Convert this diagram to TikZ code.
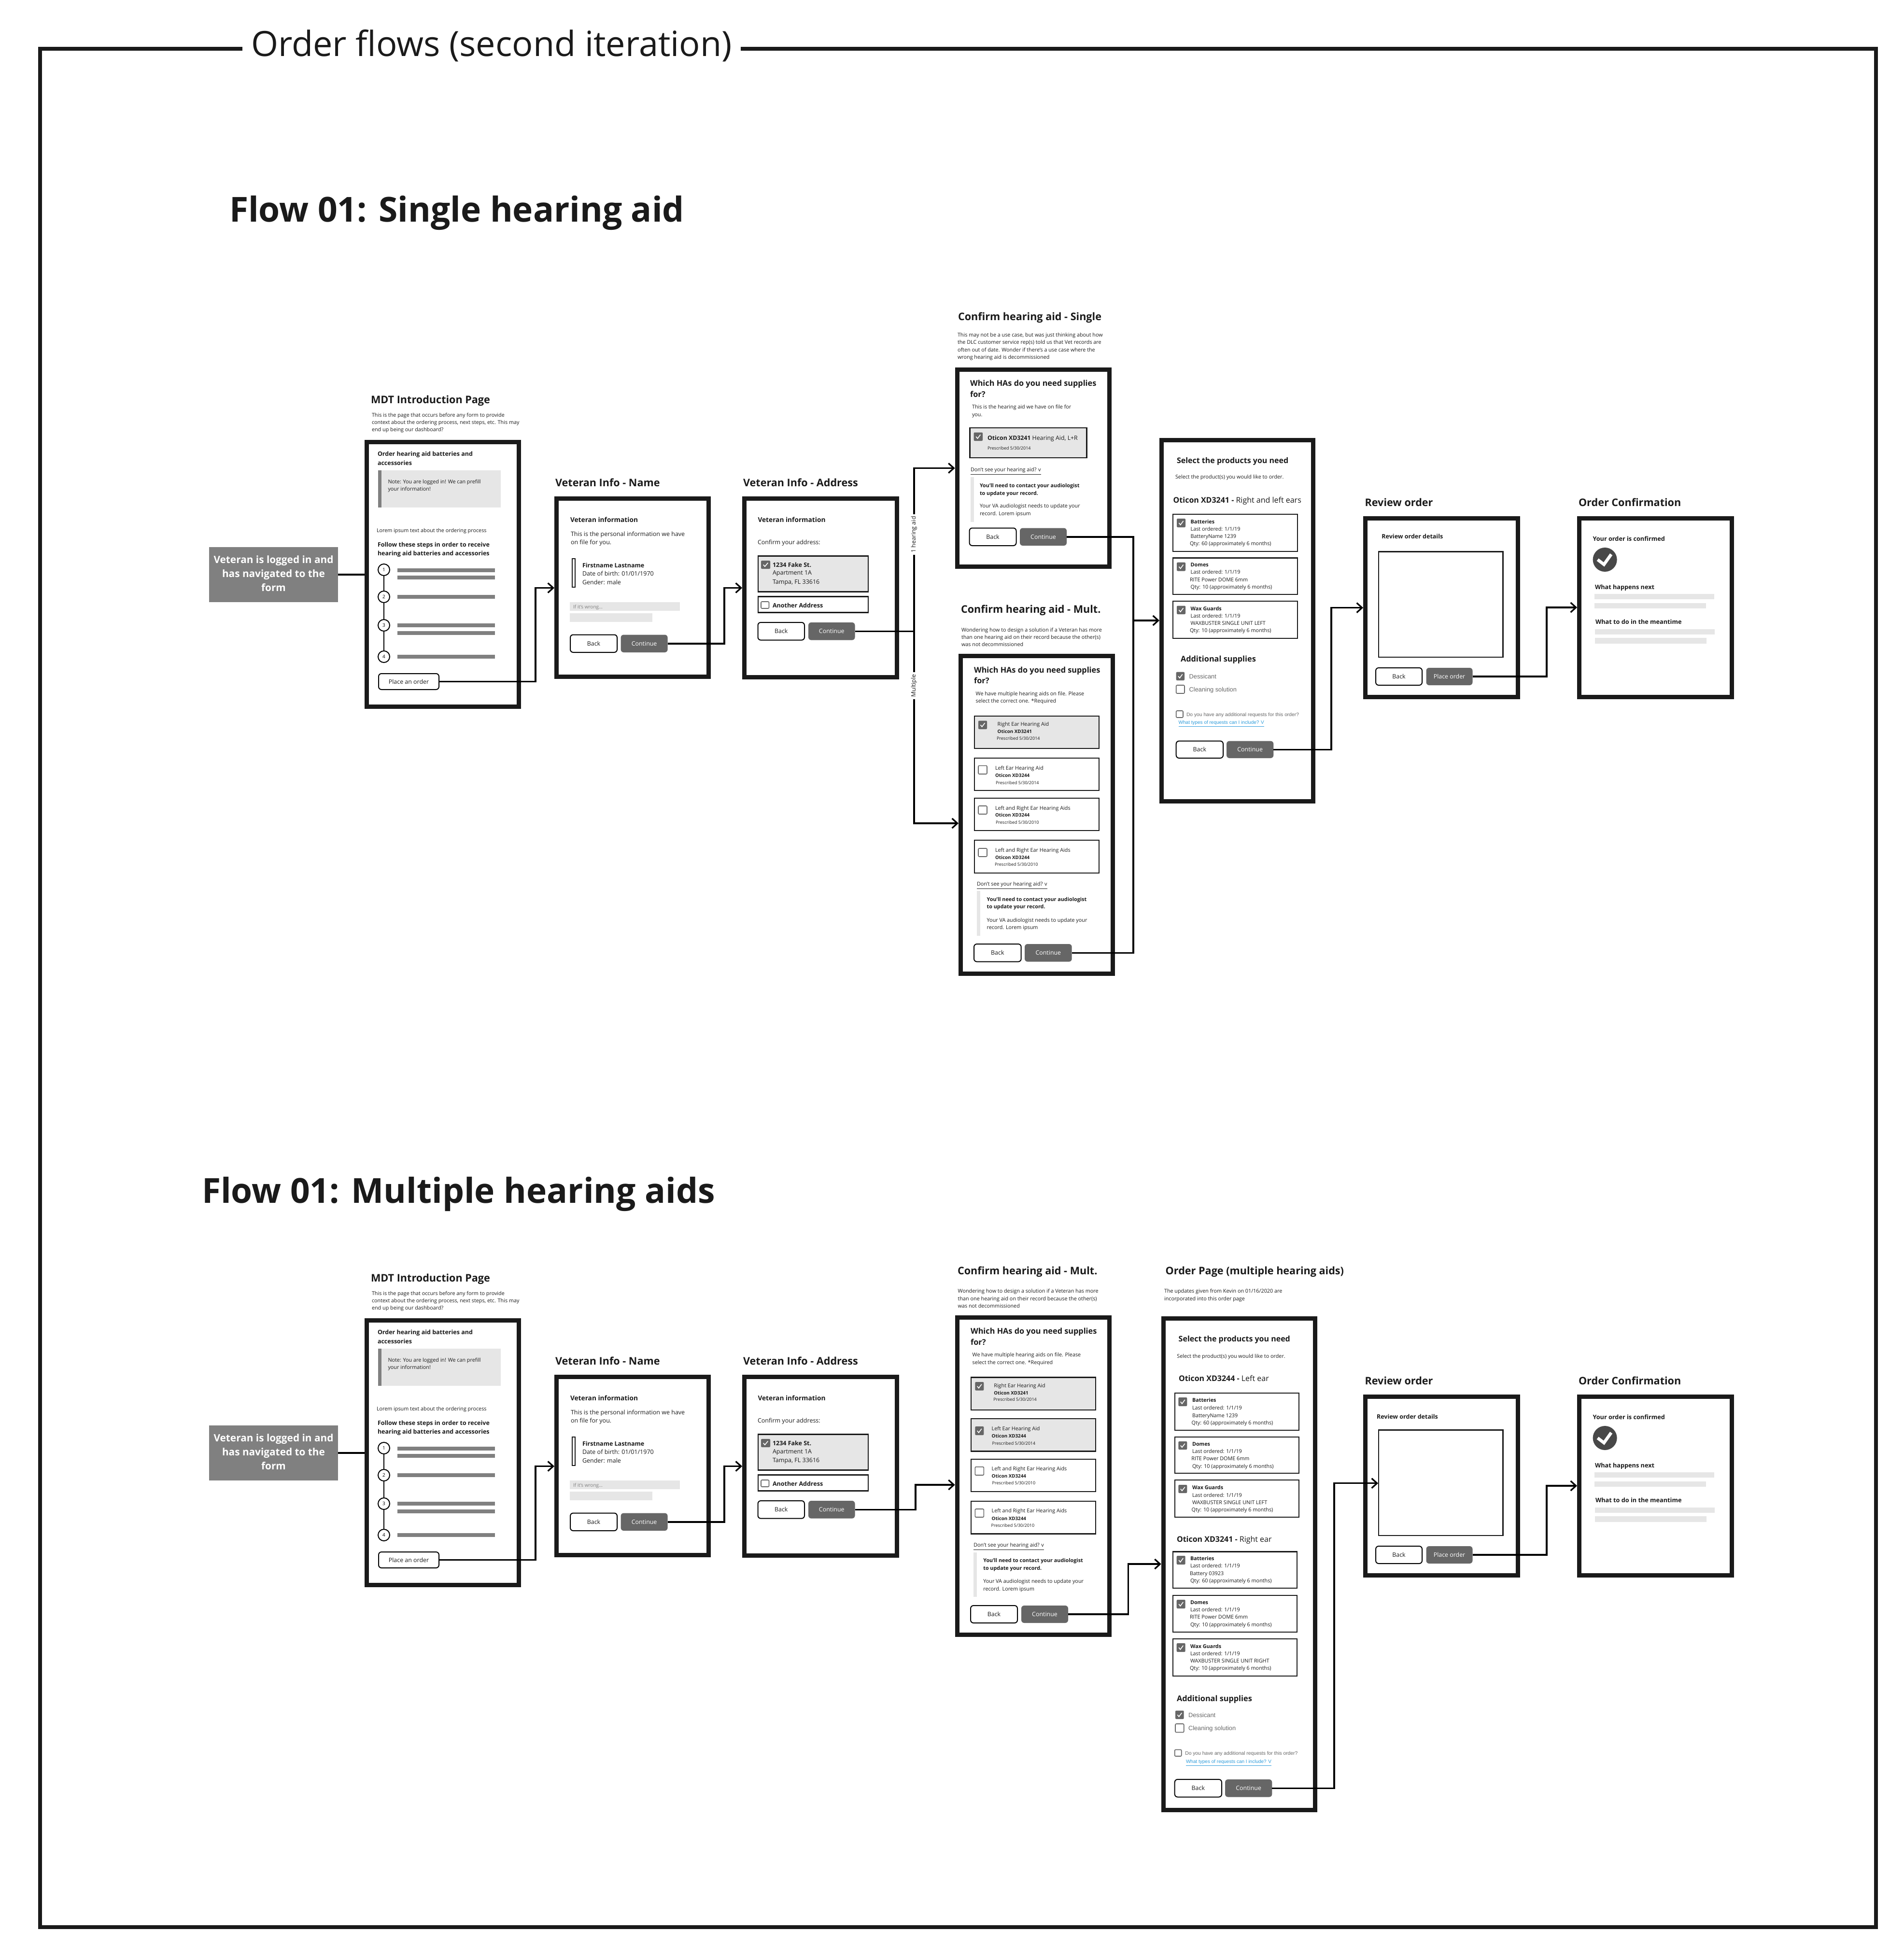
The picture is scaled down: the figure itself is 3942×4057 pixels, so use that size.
\documentclass[tikz,border=0pt]{standalone}
\usepackage{fontspec}
\setmainfont{Open Sans}
\newfontfamily\arl{Liberation Sans}
\usetikzlibrary{arrows.meta,calc}
\definecolor{ink}{HTML}{1A1A1A}
\definecolor{pale}{HTML}{E6E6E6}
\definecolor{midg}{HTML}{808080}
\definecolor{btn}{HTML}{666666}
\definecolor{linkb}{HTML}{2D9CDB}
\newcounter{tc}
% text: [opts]{size px}{x}{y}{text}
\newcommand{\tx}[5][]{\stepcounter{tc}\node[txt,#1] (t\arabic{tc}) at (#3,\fpeval{#4+2}) {\fontsize{\fpeval{#2*0.5}pt}{\fpeval{#2*0.6}pt}\selectfont\vphantom{Ag}#5};}
% box: style,name,x1,y1,x2,y2
\newcommand{\boxn}[6]{\pgfmathsetmacro\bw{(#5-#3)*0.5}\pgfmathsetmacro\bh{(#6-#4)*0.5}\pgfmathsetmacro\bx{(#3+#5)/2}\pgfmathsetmacro\by{(#4+#6)/2}\node[#1,minimum width=\bw pt,minimum height=\bh pt] (#2) at (\bx,\by) {};}
\newcommand{\cbon}[5]{\boxn{cbfill}{#1}{#2}{#3}{#4}{#5}\draw[tick] ($(#1.west)!0.25!(#1.east)$) -- ++(0.17*#4-0.17*#2,0.22*#5-0.22*#3) -- ++(0.33*#4-0.33*#2,-0.45*#5+0.45*#3);}
\newcommand{\cboff}[5]{\boxn{cbempty}{#1}{#2}{#3}{#4}{#5}}
\newcommand{\btnrow}[6]{\boxn{btnback}{#1b}{#2}{#3}{#4}{#6}\boxn{btnmain}{#1c}{#5}{#3}{\fpeval{#5+#4-#2}}{#6}}
\tikzset{
  x=0.5pt,y=-0.5pt,
  txt/.style={anchor=west,inner sep=0pt,outer sep=0pt,text=ink,align=left},
  screen/.style={draw=ink,fill=white,line width=4.5pt,inner sep=0pt,outer sep=0pt},
  card/.style={draw=ink,fill=white,line width=1.2pt,inner sep=0pt,outer sep=0pt},
  cardon/.style={card,fill=pale},
  palebar/.style={fill=pale,inner sep=0pt,outer sep=0pt},
  greybar/.style={fill=midg,inner sep=0pt,outer sep=0pt},
  cbfill/.style={fill=btn,rounded corners=1pt,inner sep=0pt,outer sep=0pt},
  cbempty/.style={draw=btn,fill=white,line width=0.8pt,rounded corners=1pt,inner sep=0pt,outer sep=0pt},
  tick/.style={draw=white,line width=0.8pt},
  btnback/.style={draw=black,fill=white,line width=1pt,rounded corners=3pt,inner sep=0pt,outer sep=0pt},
  btnmain/.style={fill=btn,rounded corners=3pt,inner sep=0pt,outer sep=0pt},
  btntxt/.style={inner sep=0pt,outer sep=0pt},
  conn/.style={draw=black,line width=1.75pt,-{Straight Barb[length=5.5pt,width=10pt,line width=1.6pt]}},
  plain/.style={draw=black,line width=1.75pt},
  stepdot/.style={circle,draw=black,fill=white,line width=1pt,minimum size=12pt,inner sep=0pt,outer sep=0pt},
  vlabel/.style={rotate=90,fill=white,inner xsep=2pt,inner ysep=1pt,text=ink,anchor=center}
}
% label inside a button
\newcommand{\lab}[3]{\stepcounter{tc}\node[btntxt,text=#1] (t\arabic{tc}) at (#2.center) {\fontsize{6.2}{7}\selectfont #3};}
% ---- repeating screens
\newcommand{\mdtscreen}[1]{%
  \tx{21.6}{768}{828}{\bfseries MDT Introduction Page}
  \tx{10.8}{770}{859}{This is the page that occurs before any form to provide}
  \tx{10.8}{770}{874}{context about the ordering process, next steps, etc. This may}
  \tx{10.8}{770}{889}{end up being our dashboard?}
  \boxn{screen}{#1mdt}{759.5}{915.5}{1074.5}{1463.5}
  \tx{12.5}{782}{939}{\bfseries Order hearing aid batteries and}
  \tx{12.5}{782}{958}{\bfseries accessories}
  \boxn{palebar}{#1note}{783}{974}{1036.5}{1051}
  \boxn{greybar}{#1noteb}{783}{974}{790}{1051}
  \tx{10.8}{803.5}{997}{Note: You are logged in! We can prefill}
  \tx{10.8}{803.5}{1012}{your information!}
  \tx{10.8}{780}{1098}{Lorem ipsum text about the ordering process}
  \tx{12.5}{782}{1127.6}{\bfseries Follow these steps in order to receive}
  \tx{12.5}{782}{1145.5}{\bfseries hearing aid batteries and accessories}
  \coordinate (#1s1) at (795,1180);\coordinate (#1s2) at (795,1236);\coordinate (#1s3) at (795,1295);\coordinate (#1s4) at (795,1360);
  \draw[line width=1pt,draw=black] (#1s1) -- (#1s4);
  \foreach \n in {1,2,3,4}{\node[stepdot,font=\fontsize{5}{6}\selectfont] (#1d\n) at (#1s\n) {\n};}
  \boxn{greybar}{#1l1}{822.5}{1177}{1024.5}{1185}
  \boxn{greybar}{#1l2}{822.5}{1192}{1024.5}{1200}
  \boxn{greybar}{#1l3}{822.5}{1232}{1024.5}{1240}
  \boxn{greybar}{#1l4}{822.5}{1291}{1024.5}{1299}
  \boxn{greybar}{#1l5}{822.5}{1307}{1024.5}{1315}
  \boxn{greybar}{#1l6}{822.5}{1356}{1024.5}{1364}
  \boxn{btnback}{#1place}{784}{1395}{909}{1428}
  \lab{ink}{#1place}{Place an order}
  \boxn{greybar}{#1start}{433}{1133}{700}{1246.5}
  \stepcounter{tc}\node[btntxt,text=white,align=center,yshift=1pt,font=\fontsize{10.4}{14.5}\selectfont\bfseries] (t\arabic{tc}) at (#1start.center) {Veteran is logged in and\\has navigated to the\\form};
  \draw[plain] (#1start.east |- 0,1190) -- (755,1190);
}
\newcommand{\namescreen}[1]{%
  \tx{21.6}{1150}{1000}{\bfseries Veteran Info - Name}
  \boxn{screen}{#1name}{1152.5}{1032.5}{1467.5}{1401.5}
  \tx{13.7}{1181}{1076}{\bfseries Veteran information}
  \tx{12.5}{1182}{1105}{This is the personal information we have}
  \tx{12.5}{1182}{1122.5}{on file for you.}
  \boxn{card}{#1nbar}{1185}{1157}{1191}{1216}
  \tx{12.5}{1206}{1170}{\bfseries Firstname Lastname}
  \tx{12.5}{1206}{1187}{Date of birth: 01/01/1970}
  \tx{12.5}{1206}{1205}{Gender: male}
  \boxn{palebar}{#1w1}{1180}{1247}{1408}{1265}
  \tx[text=midg]{10}{1187}{1256}{If it's wrong...}
  \boxn{palebar}{#1w2}{1180}{1270}{1351}{1288}
  \btnrow{#1n}{1181}{1314.5}{1278}{1285.6}{1351}
  \lab{ink}{#1nb}{Back}\lab{white}{#1nc}{Continue}
  \coordinate (#1nameIn) at (1148,1217.5);
}
\newcommand{\addrscreen}[1]{%
  \tx{21.6}{1539}{1000}{\bfseries Veteran Info - Address}
  \boxn{screen}{#1addr}{1541.5}{1032.5}{1857.5}{1402.5}
  \tx{13.7}{1569.5}{1075.6}{\bfseries Veteran information}
  \tx{12.5}{1569}{1122.5}{Confirm your address:}
  \boxn{cardon}{#1a1}{1570}{1151.5}{1798}{1225.5}
  \cbon{#1ac1}{1576}{1161}{1595}{1178}
  \tx{12.5}{1600}{1169.5}{\bfseries 1234 Fake St.}
  \tx{12.5}{1600}{1186}{Apartment 1A}
  \tx{12.5}{1600}{1204.7}{Tampa, FL 33616}
  \boxn{card}{#1a2}{1570}{1235.5}{1798}{1268.5}
  \cboff{#1ac2}{1576}{1246}{1592.5}{1260}
  \tx{12.5}{1600}{1253}{\bfseries Another Address}
  \btnrow{#1a}{1569.5}{1289}{1666}{1674}{1325.6}
  \lab{ink}{#1ab}{Back}\lab{white}{#1ac}{Continue}
  \coordinate (#1addrIn) at (1537,1217.5);
}
\newcommand{\confscreen}[1]{%
  \tx{21.6}{3269}{1041}{\bfseries Order Confirmation}
  \boxn{screen}{#1conf}{3270.5}{1073.5}{3586.5}{1443.5}
  \tx{12.7}{3298.5}{1114.7}{\bfseries Your order is confirmed}
  \node[circle,fill=ink!80!white,minimum size=25pt,inner sep=0pt] (#1okc) at (3323.6,1159) {};
  \draw[white,line width=3.2pt] ($(#1okc.center)+(-15,0)$) -- ($(#1okc.center)+(-2,10)$) -- ($(#1okc.center)+(13,-11)$);
  \tx{12.7}{3303}{1215}{\bfseries What happens next}
  \boxn{palebar}{#1c1}{3302}{1230}{3550}{1241}
  \boxn{palebar}{#1c2}{3302}{1248.7}{3532.5}{1260}
  \tx{12.7}{3304}{1286.7}{\bfseries What to do in the meantime}
  \boxn{palebar}{#1c3}{3303}{1303}{3551}{1314}
  \boxn{palebar}{#1c4}{3303}{1321}{3533.6}{1333}
  \coordinate (#1confIn) at (3266,1258);
}
% review: prefix, text x, text y
\newcommand{\revscreen}[3]{%
  \tx{21.6}{2826.6}{1041}{\bfseries Review order}
  \boxn{screen}{#1rev}{2827.5}{1073.5}{3143.5}{1443.5}
  \tx{12.5}{#2}{#3}{\bfseries Review order details}
  \boxn{card}{#1rbox}{2855}{1142.5}{3112.5}{1361}
  \btnrow{#1r}{2849}{1383}{2945}{2953.5}{1419}
  \lab{ink}{#1rb}{Back}\lab{white}{#1rc}{Place order}
}
\begin{document}
\begin{tikzpicture}
\useasboundingbox (0,0) rectangle (3942,4057);
\fill[white] (0,0) rectangle (3942,4057);
% ----- outer frame and headings
\coordinate (fa) at (502,101.5);\coordinate (fb) at (1533.7,101.5);
\draw[draw=ink,line width=4pt,line cap=butt,line join=miter] (fa) -- (83,101.5) -- (83,3991) -- (3885,3991) -- (3885,101.5) -- (fb);
\tx{72}{520}{96}{Order flows (second iteration)}
\tx{71.3}{475}{438.7}{\bfseries Flow 01: Single hearing aid}
\tx{71.3}{418}{2471}{\bfseries Flow 01: Multiple hearing aids}
% ===== FLOW 1
\mdtscreen{A}\namescreen{A}\addrscreen{A}
% single
\tx{21.6}{1984}{656}{\bfseries Confirm hearing aid - Single}
\tx{10.8}{1983}{693}{This may not be a use case, but was just thinking about how}
\tx{10.8}{1983}{708}{the DLC customer service rep(s) told us that Vet records are}
\tx{10.8}{1983}{724}{often out of date. Wonder if there's a use case where the}
\tx{10.8}{1983}{739}{wrong hearing aid is decommissioned}
\boxn{screen}{Asing}{1982}{765.5}{2297.5}{1173}
\tx{16.3}{2009}{793.5}{\bfseries Which HAs do you need supplies}
\tx{16.3}{2009}{816}{\bfseries for?}
\tx{10.8}{2013}{842}{This is the hearing aid we have on file for}
\tx{10.8}{2013}{858}{you.}
\boxn{cardon}{Ascard}{2008.5}{886}{2250.5}{948}
\cbon{Asck}{2016.6}{895.5}{2035}{913}
\tx{12.3}{2045}{906.7}{\textbf{Oticon XD3241} Hearing Aid, L+R}
\tx{9}{2045}{927.6}{Prescribed 5/30/2014}
\tx{10.8}{2010}{974}{\underline{Don't see your hearing aid? v}}
\boxn{palebar}{Asbar}{2010}{988}{2016.6}{1080.7}
\tx{10.8}{2029}{1005}{\bfseries You'll need to contact your audiologist}
\tx{10.8}{2029}{1020.5}{\bfseries to update your record.}
\tx{10.8}{2029}{1047}{Your VA audiologist needs to update your}
\tx{10.8}{2029}{1063}{record. Lorem ipsum}
\btnrow{As}{2007.5}{1093.5}{2104.5}{2112}{1130}
\lab{ink}{Asb}{Back}\lab{white}{Asc}{Continue}
\coordinate (AsingIn) at (1977.6,969.5);
% mult
\tx{21.6}{1990}{1262}{\bfseries Confirm hearing aid - Mult.}
\tx{10.8}{1991}{1304}{Wondering how to design a solution if a Veteran has more}
\tx{10.8}{1991}{1319}{than one hearing aid on their record because the other(s)}
\tx{10.8}{1991}{1334}{was not decommissioned}
\boxn{screen}{Amult}{1989.5}{1358.5}{2304.5}{2016}
\tx{16.3}{2017}{1387}{\bfseries Which HAs do you need supplies}
\tx{16.3}{2017}{1409.4}{\bfseries for?}
\tx{10.8}{2020.7}{1435.7}{We have multiple hearing aids on file. Please}
\tx{10.8}{2020.7}{1450.7}{select the correct one. *Required}
\boxn{cardon}{Am1}{2018}{1483}{2276}{1550}
\cbon{Amc1}{2026}{1492.5}{2044}{1510}
\tx{10.8}{2065.7}{1499}{Right Ear Hearing Aid}
\tx{9.8}{2065.7}{1514}{\bfseries Oticon XD3241}
\tx{9}{2064}{1528}{Prescribed 5/30/2014}
\boxn{card}{Am2}{2018}{1570}{2276}{1637}
\cboff{Amc2}{2026}{1585.6}{2044}{1603}
\tx{10.8}{2061}{1590}{Left Ear Hearing Aid}
\tx{9.8}{2061}{1605}{\bfseries Oticon XD3244}
\tx{9}{2062}{1620}{Prescribed 5/30/2014}
\boxn{card}{Am3}{2018}{1653}{2276}{1720}
\cboff{Amc3}{2026}{1669}{2044}{1686}
\tx{10.8}{2061}{1672.4}{Left and Right Ear Hearing Aids}
\tx{9.8}{2061}{1687.4}{\bfseries Oticon XD3244}
\tx{9}{2062}{1702.4}{Prescribed 5/30/2010}
\boxn{card}{Am4}{2018}{1740}{2276}{1808}
\cboff{Amc4}{2026}{1757}{2044}{1774}
\tx{10.8}{2061}{1759.7}{Left and Right Ear Hearing Aids}
\tx{9.8}{2061}{1774.7}{\bfseries Oticon XD3244}
\tx{9}{2060}{1789}{Prescribed 5/30/2010}
\tx{10.8}{2023}{1832}{\underline{Don't see your hearing aid? v}}
\boxn{palebar}{Ambar}{2023}{1845}{2030}{1938}
\tx{10.8}{2043.7}{1861.5}{\bfseries You'll need to contact your audiologist}
\tx{10.8}{2043.7}{1876.5}{\bfseries to update your record.}
\tx{10.8}{2043.7}{1905}{Your VA audiologist needs to update your}
\tx{10.8}{2043.7}{1920}{record. Lorem ipsum}
\btnrow{Am}{2017}{1955}{2114.7}{2122}{1991.6}
\lab{ink}{Amb}{Back}\lab{white}{Amc}{Continue}
\coordinate (AmultIn) at (1985,1705);
% products
\boxn{screen}{Aprod}{2405.5}{911}{2719.5}{1659.5}
\tx{16}{2437}{953}{\bfseries Select the products you need}
\tx{10.8}{2434}{987}{Select the product(s) you would like to order.}
\tx{16}{2429.7}{1035}{\textbf{Oticon XD3241 -} Right and left ears}
\boxn{card}{Ap1}{2429}{1064.7}{2687}{1142}
\cbon{Apc1}{2437}{1074}{2455}{1092}
\tx{10.8}{2465.7}{1080}{\bfseries Batteries}
\tx{10.8}{2465.7}{1095}{Last ordered: 1/1/19}
\tx{10.8}{2465.7}{1110}{BatteryName 1239}
\tx{10.8}{2464}{1125}{Qty: 60 (approximately 6 months)}
\boxn{card}{Ap2}{2429}{1155.5}{2687}{1231}
\cbon{Apc2}{2437}{1164.7}{2455}{1182.5}
\tx{10.8}{2465.7}{1169}{\bfseries Domes}
\tx{10.8}{2465.7}{1184}{Last ordered: 1/1/19}
\tx{10.8}{2464}{1200}{RITE Power DOME 6mm}
\tx{10.8}{2465.7}{1215}{Qty: 10 (approximately 6 months)}
\boxn{card}{Ap3}{2429}{1245}{2687}{1322}
\cbon{Apc3}{2437}{1254.5}{2455}{1272}
\tx{10.8}{2465.7}{1260}{\bfseries Wax Guards}
\tx{10.8}{2465.7}{1275}{Last ordered: 1/1/19}
\tx{10.8}{2465.7}{1290}{WAXBUSTER SINGLE UNIT LEFT}
\tx{10.8}{2464}{1305}{Qty: 10 (approximately 6 months)}
\tx{16.3}{2445}{1364.7}{\bfseries Additional supplies}
\cbon{Apc4}{2435.7}{1391.7}{2453}{1409}
\tx[text=btn]{12.8}{2462.7}{1400}{\arl Dessicant}
\cboff{Apc5}{2435.7}{1419}{2453}{1436}
\tx[text=btn]{12.8}{2462.7}{1427.5}{\arl Cleaning solution}
\cboff{Apc6}{2435.7}{1472}{2450}{1486}
\tx[text=btn]{10.3}{2457}{1479}{\arl Do you have any additional requests for this order?}
\tx[text=linkb]{10}{2440.7}{1497}{\arl\underline{What types of requests can I include? V}}
\btnrow{Ap}{2435.7}{1534.6}{2533}{2540}{1570}
\lab{ink}{Apb}{Back}\lab{white}{Apc}{Continue}
\coordinate (AprodIn) at (2401,1285);
\revscreen{A}{2861.4}{1110.7}
\coordinate (ArevIn) at (2823,1258.6);
\confscreen{A}
% flow 1 connectors
\coordinate (x1) at (1109,0);\coordinate (x2) at (1500,0);\coordinate (x3) at (1893,0);\coordinate (x4) at (2347,0);\coordinate (x5) at (2757,0);\coordinate (x6) at (3203,0);
\draw[conn] (Aplace.east) -| (x1 |- AnameIn) -- (AnameIn);
\draw[conn] (Anc.east) -| (x2 |- AaddrIn) -- (AaddrIn);
\draw[conn] (Aac.east) -| (x3 |- AsingIn) -- (AsingIn);
\draw[conn] (x3 |- Aac.east) |- (AmultIn);
\draw[plain] (Asc.east) -| (x4 |- Amc.east) -- (Amc.east);
\draw[conn] (x4 |- AprodIn) -- (AprodIn);
\draw[conn] (Apc.east) -| (x5 |- ArevIn) -- (ArevIn);
\draw[conn] (Arc.east) -| (x6 |- AconfIn) -- (AconfIn);
\node[vlabel,font=\fontsize{6.2}{7}\selectfont] (Al1) at (1893,1107) {1 hearing aid};
\node[vlabel,font=\fontsize{6.2}{7}\selectfont] (Al2) at (1893,1420) {Multiple};
% ===== FLOW 2
\begin{scope}[shift={(0,1819)}]
\mdtscreen{B}\namescreen{B}\addrscreen{B}
\revscreen{B}{2851}{1114.7}
\confscreen{B}
\end{scope}
% multiple screen, flow 2
\tx{21.6}{1983}{2631.6}{\bfseries Confirm hearing aid - Mult.}
\tx{10.8}{1983.7}{2673}{Wondering how to design a solution if a Veteran has more}
\tx{10.8}{1983.7}{2688.8}{than one hearing aid on their record because the other(s)}
\tx{10.8}{1983.7}{2704}{was not decommissioned}
\boxn{screen}{Bmult}{1982.2}{2728.5}{2297.5}{3385.5}
\tx{16.3}{2010}{2756.6}{\bfseries Which HAs do you need supplies}
\tx{16.3}{2010}{2779.6}{\bfseries for?}
\tx{10.8}{2013.7}{2805}{We have multiple hearing aids on file. Please}
\tx{10.8}{2013.7}{2821}{select the correct one. *Required}
\boxn{cardon}{Bm1}{2011}{2852.5}{2269}{2920}
\cbon{Bmc1}{2019.3}{2862}{2037.3}{2879.6}
\tx{10.8}{2058.3}{2869}{Right Ear Hearing Aid}
\tx{9.8}{2058.3}{2883.7}{\bfseries Oticon XD3241}
\tx{9}{2057.3}{2897.5}{Prescribed 5/30/2014}
\boxn{cardon}{Bm2}{2011}{2938}{2269}{3005.6}
\cbon{Bmc2}{2019.3}{2954}{2037.3}{2972}
\tx{10.8}{2053.7}{2958}{Left Ear Hearing Aid}
\tx{9.8}{2053.7}{2973}{\bfseries Oticon XD3244}
\tx{9}{2054.7}{2988}{Prescribed 5/30/2014}
\boxn{card}{Bm3}{2011}{3022}{2269}{3089}
\cboff{Bmc3}{2019.3}{3037.8}{2037.3}{3055}
\tx{10.8}{2053.7}{3040.8}{Left and Right Ear Hearing Aids}
\tx{9.8}{2053.7}{3055.6}{\bfseries Oticon XD3244}
\tx{9}{2054.7}{3070.4}{Prescribed 5/30/2010}
\boxn{card}{Bm4}{2011}{3109}{2269}{3176.6}
\cboff{Bmc4}{2019.3}{3125}{2037.3}{3142}
\tx{10.8}{2053.7}{3128}{Left and Right Ear Hearing Aids}
\tx{9.8}{2053.7}{3144}{\bfseries Oticon XD3244}
\tx{9}{2052.7}{3157.7}{Prescribed 5/30/2010}
\tx{10.8}{2016.3}{3201}{\underline{Don't see your hearing aid? v}}
\boxn{palebar}{Bmbar}{2016.3}{3215}{2023}{3307}
\tx{10.8}{2036.3}{3231}{\bfseries You'll need to contact your audiologist}
\tx{10.8}{2036.3}{3247}{\bfseries to update your record.}
\tx{10.8}{2036.3}{3274}{Your VA audiologist needs to update your}
\tx{10.8}{2036.3}{3290}{record. Lorem ipsum}
\btnrow{Bm}{2010}{3325}{2107}{2115}{3361}
\lab{ink}{Bmb}{Back}\lab{white}{Bmc}{Continue}
\coordinate (BmultIn) at (1977.7,3075);
% order page
\tx{21.6}{2413.7}{2632}{\bfseries Order Page (multiple hearing aids)}
\tx{10.8}{2411}{2673}{The updates given from Kevin on 01/16/2020 are}
\tx{10.8}{2411}{2689}{incorporated into this order page}
\boxn{screen}{Bord}{2409.2}{2730}{2723.2}{3748.3}
\tx{16}{2440.7}{2772.4}{\bfseries Select the products you need}
\tx{10.8}{2437.3}{2807.3}{Select the product(s) you would like to order.}
\tx{16}{2441}{2854.4}{\textbf{Oticon XD3244 -} Left ear}
\boxn{card}{Bo1}{2432.7}{2885}{2689.7}{2962}
\cbon{Boc1}{2440.3}{2894}{2458.3}{2912}
\tx{10.8}{2469}{2899}{\bfseries Batteries}
\tx{10.8}{2469}{2914.5}{Last ordered: 1/1/19}
\tx{10.8}{2469}{2930.6}{BatteryName 1239}
\tx{10.8}{2467.7}{2945.6}{Qty: 60 (approximately 6 months)}
\boxn{card}{Bo2}{2432.7}{2975.7}{2689.7}{3051}
\cbon{Boc2}{2440.3}{2985}{2458.3}{3002}
\tx{10.8}{2469}{2989.7}{\bfseries Domes}
\tx{10.8}{2469}{3004.6}{Last ordered: 1/1/19}
\tx{10.8}{2467.3}{3019.6}{RITE Power DOME 6mm}
\tx{10.8}{2469}{3035.6}{Qty: 10 (approximately 6 months)}
\boxn{card}{Bo3}{2432.7}{3065}{2689.7}{3142}
\cbon{Boc3}{2440.3}{3075}{2458.3}{3092}
\tx{10.8}{2469}{3079.7}{\bfseries Wax Guards}
\tx{10.8}{2469}{3095.8}{Last ordered: 1/1/19}
\tx{10.8}{2469}{3110.7}{WAXBUSTER SINGLE UNIT LEFT}
\tx{10.8}{2467.7}{3125.7}{Qty: 10 (approximately 6 months)}
\tx{16}{2437}{3187}{\textbf{Oticon XD3241 -} Right ear}
\boxn{card}{Bo4}{2428.7}{3213.5}{2686}{3289}
\cbon{Boc4}{2436.7}{3222}{2454.7}{3240}
\tx{10.8}{2465}{3227}{\bfseries Batteries}
\tx{10.8}{2465}{3242}{Last ordered: 1/1/19}
\tx{10.8}{2464}{3258}{Battery 03923}
\tx{10.8}{2465}{3273}{Qty: 60 (approximately 6 months)}
\boxn{card}{Bo5}{2428.7}{3304}{2686}{3380}
\cbon{Boc5}{2436.7}{3313}{2454.7}{3331}
\tx{10.8}{2465}{3318}{\bfseries Domes}
\tx{10.8}{2465}{3333}{Last ordered: 1/1/19}
\tx{10.8}{2464}{3348}{RITE Power DOME 6mm}
\tx{10.8}{2465}{3364}{Qty: 10 (approximately 6 months)}
\boxn{card}{Bo6}{2428.7}{3394}{2686}{3471}
\cbon{Boc6}{2436.7}{3403}{2454.7}{3421}
\tx{10.8}{2465}{3409}{\bfseries Wax Guards}
\tx{10.8}{2465}{3424}{Last ordered: 1/1/19}
\tx{10.8}{2465}{3439}{WAXBUSTER SINGLE UNIT RIGHT}
\tx{10.8}{2464}{3454}{Qty: 10 (approximately 6 months)}
\tx{16.3}{2437}{3517}{\bfseries Additional supplies}
\cbon{Boc7}{2434}{3542.5}{2451.7}{3560}
\tx[text=btn]{12.8}{2461}{3551.6}{\arl Dessicant}
\cboff{Boc8}{2434}{3570}{2451.7}{3587.5}
\tx[text=btn]{12.8}{2461}{3578.5}{\arl Cleaning solution}
\cboff{Boc9}{2432.7}{3623.5}{2446.7}{3637}
\tx[text=btn]{10.3}{2454.3}{3630}{\arl Do you have any additional requests for this order?}
\tx[text=linkb]{10}{2456}{3649}{\arl\underline{What types of requests can I include? V}}
\btnrow{Bo}{2432.7}{3685}{2530}{2537}{3721.5}
\lab{ink}{Bob}{Back}\lab{white}{Boc}{Continue}
\coordinate (BordIn) at (2404.7,3239);
\coordinate (BrevIn) at (2854,3071.7);
% flow 2 connectors
\coordinate (y3) at (1896,0);\coordinate (y4) at (2336.7,0);\coordinate (y5) at (2763,0);
\draw[conn] (Bplace.east) -| (x1 |- BnameIn) -- (BnameIn);
\draw[conn] (Bnc.east) -| (x2 |- BaddrIn) -- (BaddrIn);
\draw[conn] (Bac.east) -| (y3 |- BmultIn) -- (BmultIn);
\draw[conn] (Bmc.east) -| (y4 |- BordIn) -- (BordIn);
\draw[conn] (Boc.east) -| (y5 |- BrevIn) -- (BrevIn);
\draw[conn] (Brc.east) -| (x6 |- BconfIn) -- (BconfIn);
\end{tikzpicture}
\end{document}
